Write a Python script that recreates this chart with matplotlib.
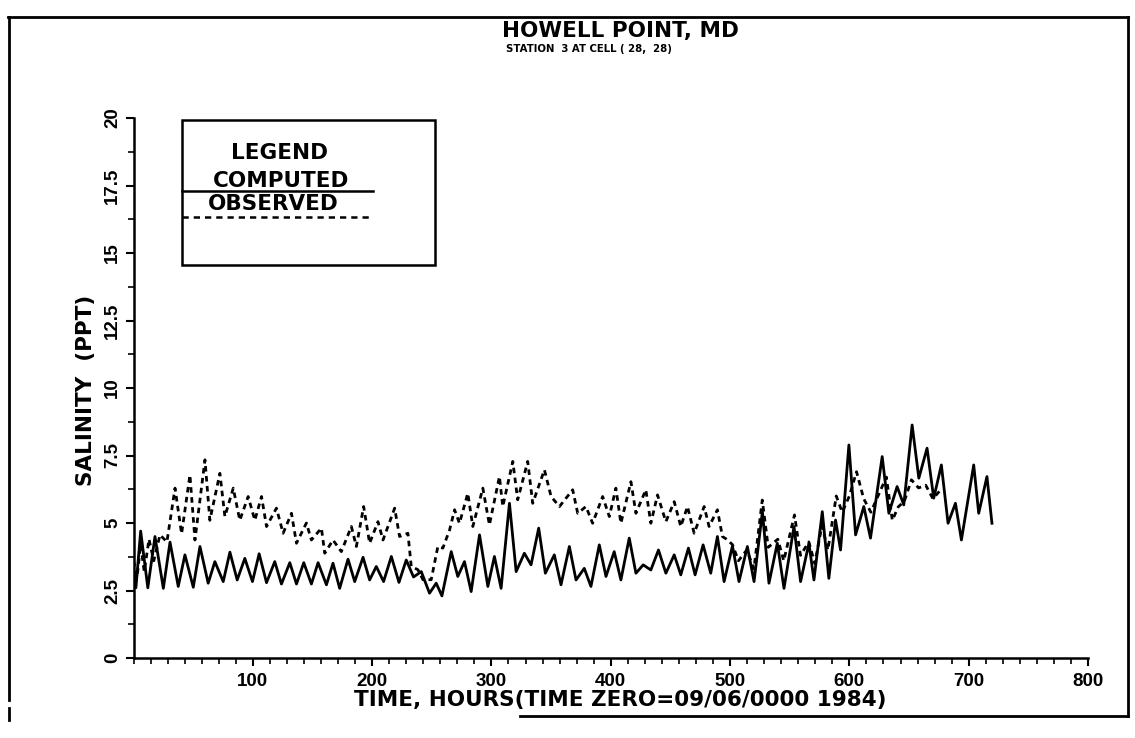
import matplotlib
matplotlib.use("Agg")
import matplotlib.pyplot as plt
from matplotlib.lines import Line2D
from matplotlib.patches import Rectangle
from matplotlib.ticker import MultipleLocator

plt.rcParams['font.family'] = ['Liberation Sans', 'DejaVu Sans']

# ---- data (hours, salinity ppt) ----
computed_hours = [0, 2, 6, 12, 18, 25.0, 30.6, 37.5, 43.1, 50.1, 55.7, 62.6, 68.2, 75.2, 80.8,
                  86.9, 93.3, 99.7, 105.3, 111.5, 118.4, 124.0, 131.0, 136.6, 142.7, 149.1,
                  154.7, 161.7, 167.2, 172.8, 179.8, 185.4, 192.4, 197.9, 203.5, 209.6, 216.1,
                  222.5, 228.6, 234.7, 241.2, 248.1, 253.7, 258.5, 266.3, 271.8, 277.4, 283.0,
                  290.0, 297.0, 302.5, 308.1, 315.1, 320.7, 327.6, 333.2, 339.6, 345.2, 352.7,
                  358.3, 365.3, 370.9, 377.8, 383.4, 390.4, 396.0, 402.9, 408.5, 415.5, 421.1,
                  427.2, 433.6, 440.0, 446.2, 453.2, 458.7, 465.1, 470.7, 477.4, 483.8, 489.4,
                  495.0, 502.0, 507.5, 514.5, 520.1, 527.1, 532.6, 539.6, 545.2, 553.6, 559.1,
                  566.1, 570.3, 577.3, 582.8, 588.4, 592.6, 599.6, 605.2, 612.1, 617.7, 627.5,
                  633.1, 640.0, 645.6, 652.6, 658.2, 665.1, 670.7, 677.1, 682.7, 688.9, 693.9,
                  704.2, 708.4, 715.3, 719.5]
computed_salinity = [3.2, 2.6, 4.7, 2.6, 4.5, 2.58, 4.29, 2.65, 3.82, 2.62, 4.13, 2.77, 3.57, 2.83,
                     3.92, 2.89, 3.69, 2.83, 3.86, 2.79, 3.57, 2.74, 3.53, 2.74, 3.53, 2.74,
                     3.53, 2.71, 3.51, 2.58, 3.66, 2.83, 3.73, 2.89, 3.39, 2.83, 3.76,
                     2.80, 3.63, 3.0, 3.2, 2.4, 2.77, 2.3, 3.94, 3.02, 3.57, 2.46,
                     4.56, 2.65, 3.76, 2.58, 5.73, 3.2, 3.88, 3.45, 4.81, 3.14, 3.82,
                     2.71, 4.13, 2.89, 3.32, 2.65, 4.19, 3.02, 3.94, 2.89, 4.44, 3.14,
                     3.45, 3.26, 4.0, 3.14, 3.82, 3.08, 4.07, 3.08, 4.19, 3.14, 4.5,
                     2.83, 4.15, 2.83, 4.13, 2.83, 5.42, 2.77, 4.25, 2.58, 4.87, 2.83,
                     4.25, 2.89, 5.42, 2.95, 5.11, 4.0, 7.89, 4.56, 5.61, 4.44, 7.46,
                     5.36, 6.35, 5.67, 8.63, 6.66, 7.77, 5.92, 7.15, 4.99, 5.73, 4.37,
                     7.15, 5.36, 6.72, 4.99]

observed_hours = [0, 3, 6, 9, 13, 17, 22.2, 28, 34.8, 40.3, 47.3, 51.5, 59.9, 64.0, 72.4, 76.6,
                  83.6, 89.1, 96.1, 101.7, 107.3, 111.5, 119.8, 125.4, 132.4, 136.6, 144.9,
                  149.1, 157.5, 160.3, 167.2, 174.2, 182.6, 186.8, 192.9, 197.9, 204.9, 209.1,
                  218.9, 223.0, 230.0, 232.8, 238.4, 242.6, 249.5, 255.1, 259.3, 264.9, 269.1,
                  273.2, 280.2, 284.4, 292.8, 298.3, 306.7, 309.5, 317.9, 322.0, 330.4, 334.6,
                  344.4, 350.0, 357.0, 368.1, 372.3, 379.2, 384.8, 393.2, 398.8, 404.3, 408.5,
                  416.9, 421.1, 429.4, 433.6, 439.2, 446.2, 453.2, 458.7, 464.3, 469.9, 478.3,
                  482.4, 489.4, 493.6, 497.0, 502.0, 507.0, 514.0, 520.0, 527.0, 532.0, 540.0,
                  545.0, 554.0, 559.0, 566.0, 571.0, 577.0, 582.0, 589.0, 594.0, 600.0, 606.0,
                  612.0, 618.0, 625.0, 631.0, 636.0, 641.0, 646.0, 652.0, 658.0, 664.0, 670.0,
                  676.0]
observed_salinity = [3.6, 3.0, 4.2, 3.2, 4.4, 3.6, 4.56, 4.3, 6.29, 4.6, 6.78, 4.37, 7.34, 5.1,
                     6.84, 5.24, 6.29, 5.1, 5.98, 5.1, 5.98, 4.87, 5.55, 4.62, 5.36, 4.25, 5.0,
                     4.37, 4.81, 3.88, 4.37, 3.94, 4.87, 4.13, 5.61, 4.25, 5.05, 4.37,
                     5.55, 4.5, 4.62, 3.39, 3.27, 2.9, 2.9, 4.13, 4.07, 4.74, 5.49,
                     4.99, 6.1, 4.87, 6.29, 4.93, 6.72, 5.61, 7.28, 5.86, 7.28, 5.73,
                     6.97, 5.98, 5.61, 6.23, 5.36, 5.61, 4.99, 5.98, 5.24, 6.29, 4.99,
                     6.53, 5.36, 6.23, 4.99, 6.04, 5.05, 5.79, 4.87, 5.61, 4.62, 5.61,
                     4.87, 5.49, 4.5, 4.4, 4.2, 3.6, 4.0, 3.3, 5.85, 4.1, 4.4,
                     3.6, 5.3, 3.8, 4.3, 3.5, 4.9, 4.0, 6.0, 5.4, 6.0, 6.9,
                     5.9, 5.4, 6.1, 6.7, 5.1, 5.6, 5.8, 6.6, 6.3, 6.4, 5.9,
                     6.2]

x_ticks = [100, 200, 300, 400, 500, 600, 700, 800]
y_ticks = [0, 2.5, 5, 7.5, 10, 12.5, 15, 17.5, 20]
y_tick_labels = ['0', '2.5', '5', '7.5', '10', '12.5', '15', '17.5', '20']

title = "HOWELL POINT, MD"
subtitle = "STATION  3 AT CELL ( 28,  28)"
x_label = "TIME, HOURS(TIME ZERO=09/06/0000 1984)"
y_label = "SALINITY  (PPT)"
legend_title = "LEGEND"
legend_names = ["COMPUTED", "OBSERVED"]

# ---- figure ----
W, H = 1135, 738
fig = plt.figure(figsize=(W / 100, H / 100), dpi=100)
fig.patch.set_facecolor('white')

def fx(px):
    return px / W

def fy(py):
    return 1 - py / H

HEAVY = ['DejaVu Sans']

ax_left, ax_right, ax_top, ax_bottom = 133.5, 1088, 118, 658
ax = fig.add_axes([fx(ax_left), fy(ax_bottom), fx(ax_right - ax_left), (ax_bottom - ax_top) / H])

ax.plot(computed_hours, computed_salinity, color='black', lw=2.0, solid_joinstyle='round')
ax.plot(observed_hours, observed_salinity, color='black', lw=2.0, linestyle=(0, (2.0, 1.6)))

ax.set_xlim(0, 800)
ax.set_ylim(0, 20)
for s in ['top', 'right']:
    ax.spines[s].set_visible(False)
for s in ['left', 'bottom']:
    ax.spines[s].set_linewidth(1.8)

ax.set_xticks(x_ticks)
ax.set_xticklabels([str(t) for t in x_ticks], fontsize=13.5, fontweight='bold')
ax.xaxis.set_minor_locator(MultipleLocator(100 / 7))
ax.set_yticks(y_ticks)
ax.set_yticklabels(y_tick_labels, fontsize=13.5, fontweight='bold', rotation=90, va='center')
ax.yaxis.set_minor_locator(MultipleLocator(1.25))
ax.tick_params(axis='both', which='major', length=6, width=1.5, direction='out')
ax.tick_params(axis='both', which='minor', length=4, width=1.2, direction='out')
ax.tick_params(axis='x', pad=5)
ax.tick_params(axis='y', pad=3)

# axis labels
fig.text(fx(620), fy(700), x_label, fontsize=15.5, fontweight='bold', family=HEAVY,
         ha='center', va='center')
fig.text(fx(86), fy(390), y_label, fontsize=15.5, fontweight='bold', family=HEAVY,
         ha='center', va='center', rotation=90)

# titles
fig.text(fx(620), fy(37), title, fontsize=15.5, fontweight='bold', family=HEAVY,
         ha='center', va='baseline')
fig.text(fx(506), fy(43.5), subtitle, fontsize=7.3, fontweight='bold', family=HEAVY,
         ha='left', va='top')

# legend box
fig.add_artist(Rectangle((fx(182), fy(265)), fx(435 - 182), (265 - 120) / H,
                         transform=fig.transFigure, fill=False, lw=1.8, edgecolor='black'))
fig.text(fx(231), fy(153), legend_title, fontsize=15.5, fontweight='bold', family=HEAVY,
         ha='left', va='center')
fig.text(fx(213), fy(181), legend_names[0], fontsize=15.5, fontweight='bold', family=HEAVY,
         ha='left', va='center')
fig.add_artist(Line2D([fx(182), fx(373)], [fy(191), fy(191)], transform=fig.transFigure,
                      color='black', lw=1.8))
fig.text(fx(208), fy(204), legend_names[1], fontsize=15.5, fontweight='bold', family=HEAVY,
         ha='left', va='center')
fig.add_artist(Line2D([fx(182), fx(373)], [fy(217), fy(217)], transform=fig.transFigure,
                      color='black', lw=1.8, linestyle=(0, (2.5, 2))))

# outer frame (bottom-left portion missing, as in the scan)
frame_kw = dict(transform=fig.transFigure, color='black', lw=2.0)
fig.add_artist(Line2D([fx(8), fx(1128)], [fy(17), fy(17)], **frame_kw))
fig.add_artist(Line2D([fx(9), fx(9)], [fy(17), fy(700)], **frame_kw))
fig.add_artist(Line2D([fx(1128), fx(1128)], [fy(17), fy(716)], **frame_kw))
fig.add_artist(Line2D([fx(520), fx(1128)], [fy(716), fy(716)], **frame_kw))
fig.add_artist(Line2D([fx(9), fx(9)], [fy(708), fy(720)], **frame_kw))

fig.savefig('out.png', dpi=100)
